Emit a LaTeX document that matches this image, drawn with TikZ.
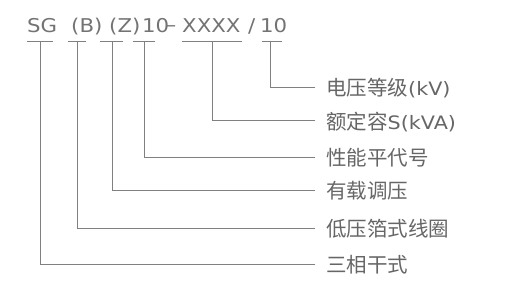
\documentclass[tikz,border=0pt]{standalone}
\usepackage{fontspec}
\setmainfont{Noto Sans CJK SC}
\newfontfamily\dvfont{DejaVu Sans}
\newcommand{\widetxt}[1]{{\dvfont\scalebox{1.12}[1]{#1}}}
\begin{document}
\begin{tikzpicture}[x=1pt,y=-1pt,
  code/.style={anchor=base west,inner sep=0pt,font=\fontsize{19}{19}\selectfont,text=black!55},
  lab/.style={anchor=west,inner xsep=11pt,inner ysep=0pt,font=\fontsize{20.5}{21}\selectfont,text=black!60},
  ln/.style={draw=black!50,line width=0.9pt}]
\useasboundingbox (0,0) rectangle (521,283);
% top code text
\node[code] (sg) at (27,33) {\widetxt{SG}};
\node[code] (b) at (71,33) {\widetxt{(B)}};
\node[code] (z) at (109,33) {\widetxt{(Z)}};
\node[code] (ten) at (142,33) {\widetxt{10}};
\node[code] (dash) at (166,33) {\raisebox{1.2pt}{\scalebox{0.95}[1]{\widetxt{–}}}};
\node[code] (xx) at (182,33) {\widetxt{XXXX}};
\node[code] (sl) at (248,33) {\widetxt{/}};
\node[code] (kv) at (260,33) {\widetxt{10}};
% underline bars
\draw[ln] (27,41) -- (53,41);
\draw[ln] (68,41) -- (86,41);
\draw[ln] (100,41) -- (123,41);
\draw[ln] (133,41) -- (155,41);
\draw[ln] (182,41) -- (242,41);
\draw[ln] (262,41) -- (282,41);
\coordinate (u1) at (40,41);
\coordinate (u2) at (77,41);
\coordinate (u3) at (112,41);
\coordinate (u4) at (144,41);
\coordinate (u5) at (212,41);
\coordinate (u6) at (270,41);
% labels
\node[lab] (l6) at (315,88) {电压等级\widetxt{\fontsize{18.5}{19}\selectfont(kV)}};
\node[lab] (l5) at (315,122) {额定容\widetxt{\fontsize{18.5}{19}\selectfont S(kVA)}};
\node[lab] (l4) at (315,158) {性能平代号};
\node[lab] (l3) at (315,191) {有载调压};
\node[lab] (l2) at (315,229) {低压箔式线圈};
\node[lab] (l1) at (315,265) {三相干式};
\coordinate (e6) at (315,87);
\coordinate (e5) at (315,120);
\coordinate (e4) at (315,157);
\coordinate (e3) at (315,190);
\coordinate (e2) at (315,228);
\coordinate (e1) at (315,264);
\draw[ln] (u6) |- (e6);
\draw[ln] (u5) |- (e5);
\draw[ln] (u4) |- (e4);
\draw[ln] (u3) |- (e3);
\draw[ln] (u2) |- (e2);
\draw[ln] (u1) |- (e1);
\end{tikzpicture}
\end{document}
